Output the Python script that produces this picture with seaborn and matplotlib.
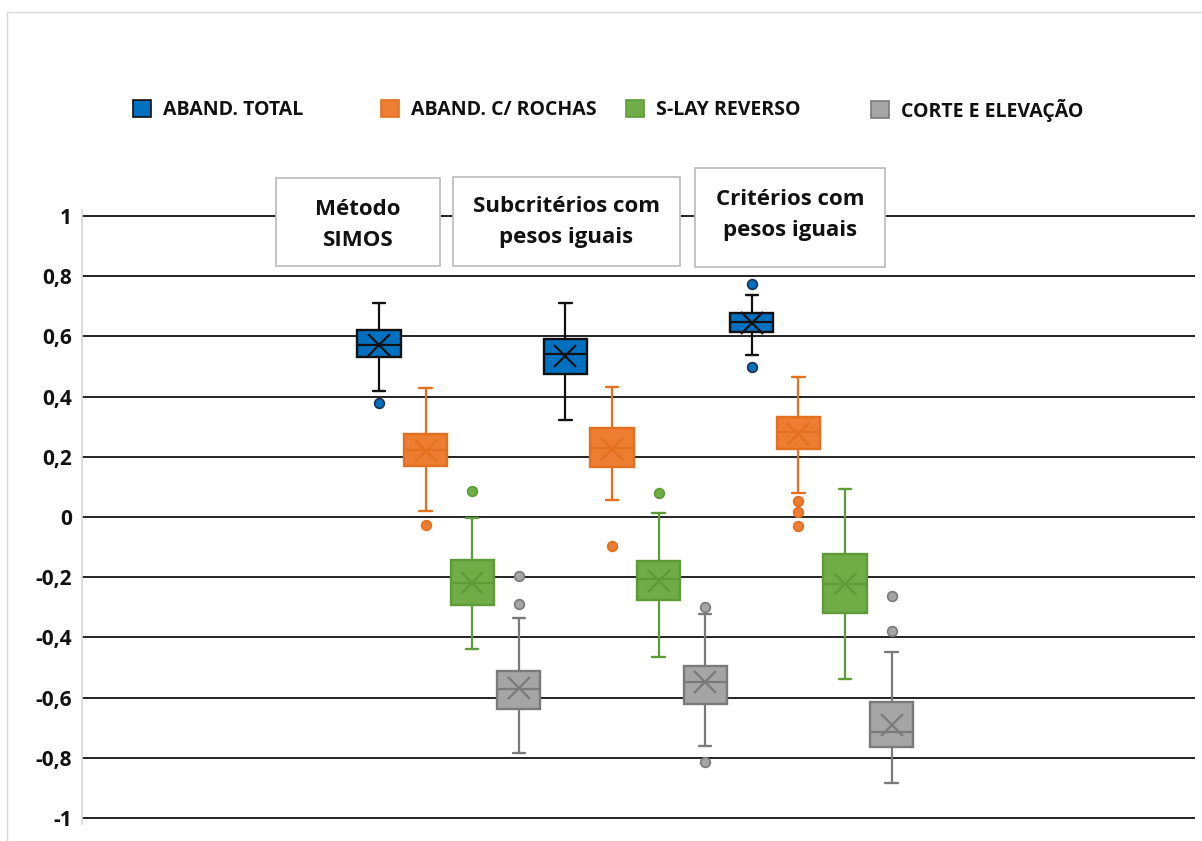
import matplotlib
matplotlib.use("Agg")
import matplotlib.pyplot as plt
from matplotlib.patches import Patch, Rectangle
import seaborn as sns

# ---- data -------------------------------------------------------------
series = ["ABAND. TOTAL", "ABAND. C/ ROCHAS", "S-LAY REVERSO", "CORTE E ELEVAÇÃO"]
methods = ["Método\nSIMOS", "Subcritérios com\npesos iguais", "Critérios com\npesos iguais"]

tick_values = [-1, -0.8, -0.6, -0.4, -0.2, 0, 0.2, 0.4, 0.6, 0.8, 1]
tick_labels = ["-1", "-0,8", "-0,6", "-0,4", "-0,2", "0", "0,2", "0,4", "0,6", "0,8", "1"]

# ABAND. TOTAL (one value per method)
total_lo = [0.419, 0.322, 0.538]
total_q1 = [0.532, 0.475, 0.615]
total_med = [0.571, 0.542, 0.648]
total_q3 = [0.621, 0.591, 0.678]
total_hi = [0.710, 0.711, 0.737]
total_mean = [0.572, 0.535, 0.645]
total_out = [[0.379], [], [0.774, 0.498]]

# ABAND. C/ ROCHAS
rochas_lo = [0.020, 0.056, 0.080]
rochas_q1 = [0.169, 0.166, 0.226]
rochas_med = [0.223, 0.229, 0.282]
rochas_q3 = [0.276, 0.296, 0.332]
rochas_hi = [0.429, 0.432, 0.465]
rochas_mean = [0.220, 0.226, 0.276]
rochas_out = [[-0.027], [-0.096], [0.053, 0.017, -0.030]]

# S-LAY REVERSO
slay_lo = [-0.439, -0.465, -0.538]
slay_q1 = [-0.292, -0.276, -0.319]
slay_med = [-0.219, -0.207, -0.222]
slay_q3 = [-0.143, -0.146, -0.123]
slay_hi = [-0.004, 0.013, 0.093]
slay_mean = [-0.219, -0.213, -0.222]
slay_out = [[0.086], [0.080], []]

# CORTE E ELEVAÇÃO
corte_lo = [-0.784, -0.761, -0.884]
corte_q1 = [-0.638, -0.621, -0.763]
corte_med = [-0.571, -0.548, -0.714]
corte_q3 = [-0.511, -0.495, -0.614]
corte_hi = [-0.336, -0.323, -0.449]
corte_mean = [-0.568, -0.548, -0.691]
corte_out = [[-0.195, -0.289], [-0.299, -0.814], [-0.262, -0.379]]

stats_by_series = [
    (total_lo, total_q1, total_med, total_q3, total_hi, total_mean, total_out),
    (rochas_lo, rochas_q1, rochas_med, rochas_q3, rochas_hi, rochas_mean, rochas_out),
    (slay_lo, slay_q1, slay_med, slay_q3, slay_hi, slay_mean, slay_out),
    (corte_lo, corte_q1, corte_med, corte_q3, corte_hi, corte_mean, corte_out),
]

# ---- style ------------------------------------------------------------
fills = ["#0070C0", "#ED7D31", "#70AD47", "#A5A5A5"]
lines = ["#111111", "#E3701F", "#5C9B38", "#7A7A7A"]
flier_edges = ["#1F2F50", "#E3701F", "#5C9B38", "#7A7A7A"]

sns.set_theme(style="white")
plt.rcParams["font.family"] = ["Open Sans", "DejaVu Sans"]

W, H = 1202, 841
fig = plt.figure(figsize=(W / 100, H / 100), dpi=100)

# axes placement (pixel geometry of the plotting area)
px_left, px_right = 82, 1195
y_top_val, y_bot_val = 1.02, -1.02
px_per_unit = 301.0
px_top = 517 - y_top_val * px_per_unit
px_bot = 517 - y_bot_val * px_per_unit
ax = fig.add_axes([px_left / W, 1 - px_bot / H, (px_right - px_left) / W, (px_bot - px_top) / H])

pitch_px = 46.6
first_center_px = 379
ax.set_xlim((px_left - first_center_px) / pitch_px, (px_right - first_center_px) / pitch_px)
ax.set_ylim(y_bot_val, y_top_val)

n_series = len(series)
for s, (lo, q1, med, q3, hi, mean, out) in enumerate(stats_by_series):
    stats = []
    for g in range(len(methods)):
        stats.append(dict(whislo=lo[g], q1=q1[g], med=med[g], q3=q3[g],
                          whishi=hi[g], mean=mean[g], fliers=out[g]))
    positions = [g * n_series + s for g in range(len(methods))]
    lc = lines[s]
    ax.bxp(stats, positions=positions, widths=0.93, capwidths=0.27,
           patch_artist=True, showmeans=True, manage_ticks=False,
           boxprops=dict(facecolor=fills[s], edgecolor=lc, linewidth=1.7),
           whiskerprops=dict(color=lc, linewidth=1.6),
           capprops=dict(color=lc, linewidth=1.7),
           medianprops=dict(color=lc, linewidth=1.6),
           meanprops=dict(marker="x", markeredgecolor=lc, markersize=16,
                          markeredgewidth=1.6, markerfacecolor="none"),
           flierprops=dict(marker="o", markerfacecolor=fills[s],
                           markeredgecolor=flier_edges[s], markersize=7,
                           markeredgewidth=1.2))

ax.set_yticks(tick_values)
ax.set_yticklabels(tick_labels, fontsize=15, fontweight="bold", color="#111111")
ax.set_xticks([])
ax.tick_params(axis="y", length=0, pad=7)
ax.yaxis.grid(True, color="#111111", linewidth=1.3)
ax.set_axisbelow(True)
for side in ("top", "right", "bottom"):
    ax.spines[side].set_visible(False)
ax.spines["left"].set_color("#D9D9D9")
ax.spines["left"].set_linewidth(1.2)

# ---- legend (four evenly spaced entries) ------------------------------
legend_x_px = [125, 373, 618, 863]
for s, name in enumerate(series):
    handle = Patch(facecolor=fills[s], edgecolor=lines[s] if s else "#111111", linewidth=1.2)
    leg = fig.legend(handles=[handle], labels=[name], loc="center left",
                     bbox_to_anchor=(legend_x_px[s] / W, 1 - 110 / H),
                     frameon=False, handlelength=0.95, handleheight=0.95,
                     handletextpad=0.6, borderaxespad=0,
                     prop=dict(size=14, weight="bold"))
    for t in leg.get_texts():
        t.set_color("#111111")

# ---- method label boxes ----------------------------------------------
label_boxes = [  # (left, top, right, bottom) in pixels
    (276, 178, 440, 266),
    (453, 177, 680, 266),
    (695, 168, 885, 267),
]
label_centers_y = [225, 222, 215]
for (l, t, r, b), cy, text in zip(label_boxes, label_centers_y, methods):
    fig.add_artist(Rectangle((l / W, 1 - b / H), (r - l) / W, (b - t) / H,
                             transform=fig.transFigure, facecolor="white",
                             edgecolor="#BFBFBF", linewidth=1.3, zorder=5))
    fig.text((l + r) / 2 / W, 1 - cy / H, text, ha="center", va="center",
             fontsize=16, fontweight="bold", color="#111111", linespacing=1.6,
             zorder=6)

# outer chart frame
fig.add_artist(Rectangle((7 / W, -0.1), 1.2, 1 - 12 / H + 0.1, transform=fig.transFigure,
                         fill=False, edgecolor="#D9D9D9", linewidth=1.0, zorder=0))

fig.savefig("out.png", dpi=100, facecolor="white")
